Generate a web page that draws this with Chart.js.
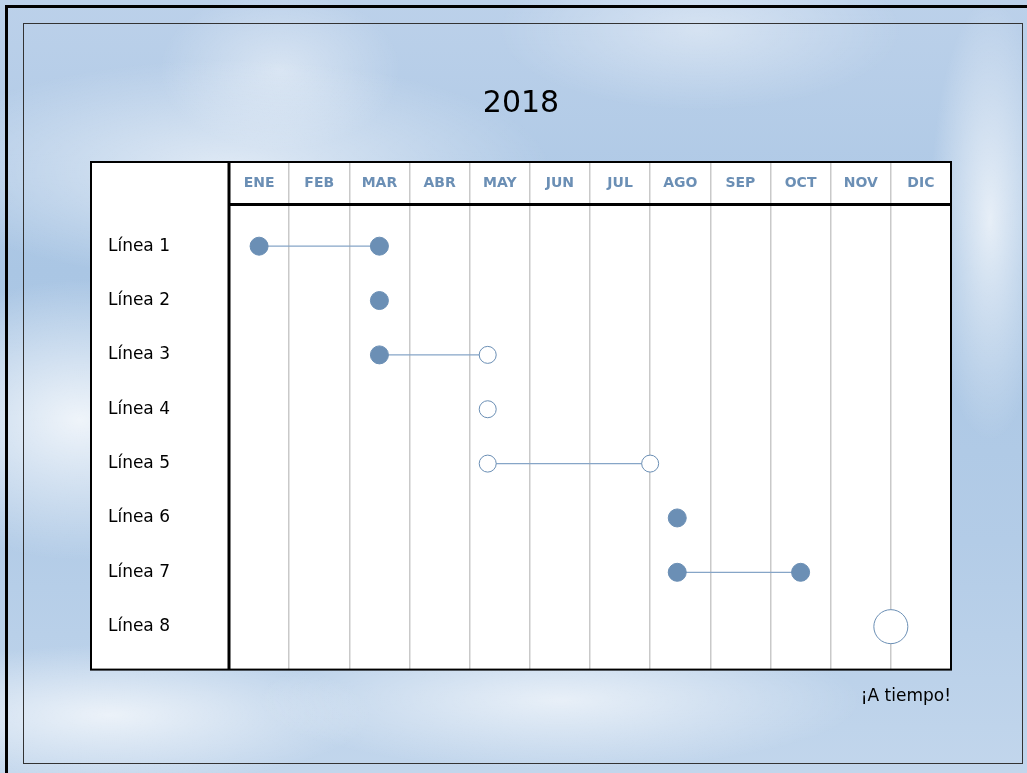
<!DOCTYPE html>
<html>
    <head>
        <meta charset="utf-8">
        <title>2018</title>
        <script src="https://cdnjs.cloudflare.com/ajax/libs/Chart.js/4.4.0/chart.umd.min.js"></script>
        <style>
            body {
                margin: 0;
                width: 1027px;
                height: 773px;
                overflow: hidden;
                background:
                    radial-gradient(ellipse 200px 140px at 80px 420px, rgba(255,255,255,0.8), rgba(255,255,255,0) 100%),
                    radial-gradient(ellipse 320px 110px at 230px 170px, rgba(255,255,255,0.6), rgba(255,255,255,0) 100%),
                    radial-gradient(ellipse 120px 80px at 280px 70px, rgba(255,255,255,0.45), rgba(255,255,255,0) 100%),
                    radial-gradient(ellipse 60px 220px at 990px 220px, rgba(255,255,255,0.7), rgba(255,255,255,0) 100%),
                    radial-gradient(ellipse 300px 70px at 560px 700px, rgba(255,255,255,0.65), rgba(255,255,255,0) 100%),
                    radial-gradient(ellipse 260px 70px at 110px 715px, rgba(255,255,255,0.7), rgba(255,255,255,0) 100%),
                    radial-gradient(ellipse 200px 80px at 700px 30px, rgba(255,255,255,0.4), rgba(255,255,255,0) 100%),
                    linear-gradient(180deg, #bcd1ea 0%, #aac6e4 35%, #b3cce7 70%, #c2d6ec 100%);
            }
            #outer {
                position: absolute; left: 5px; top: 5px; width: 1040px; height: 790px;
                border-left: 3px solid #000; border-top: 3px solid #000;
            }
            #inner {
                position: absolute; left: 23px; top: 23px; width: 998px; height: 739px;
                border: 1px solid #333;
            }
            #wrap { position: absolute; left: 0; top: 0; width: 1027px; height: 773px; }
        </style>
        <script>
            const months = ['ENE', 'FEB', 'MAR', 'ABR', 'MAY', 'JUN', 'JUL', 'AGO', 'SEP', 'OCT', 'NOV', 'DIC'];
            const rowLabels = ['Línea 1', 'Línea 2', 'Línea 3', 'Línea 4', 'Línea 5', 'Línea 6', 'Línea 7', 'Línea 8'];
            // positions in months from the start of ENE
            const startPos = [0.5, 2.5, 2.5, 4.3, 4.3, 7.45, 7.45, 11.0];
            const endPos = [2.5, null, 4.3, null, 7.0, null, 9.5, null];
            // true = completed (filled), false = pending (open)
            const startDone = [true, true, true, false, false, true, true, false];
            const endDone = [true, null, false, null, false, null, true, null];
            const milestone = [false, false, false, false, false, false, false, true];

            const blue = '#6b8fb5';

            function loaded()
            {
                let datasets = [];
                for (let i = 0; i < rowLabels.length; i++)
                {
                    let pts = [{ x: startPos[i], y: i }];
                    let fills = [startDone[i] ? blue : '#ffffff'];
                    if (endPos[i] !== null)
                    {
                        pts.push({ x: endPos[i], y: i });
                        fills.push(endDone[i] ? blue : '#ffffff');
                    }
                    const radius = fills.map(f => milestone[i] ? 17 : (f === blue ? 9 : 8.5));
                    datasets.push({
                        label: rowLabels[i],
                        data: pts,
                        xAxisID: 'xv',
                        yAxisID: 'y',
                        showLine: true,
                        borderColor: '#86a5c7',
                        borderWidth: 1.2,
                        pointBackgroundColor: fills,
                        pointBorderColor: blue,
                        pointBorderWidth: 1,
                        pointRadius: radius,
                        pointHoverRadius: radius
                    });
                }

                const tablePlugin = {
                    id: 'table',
                    beforeDraw(chart) {
                        const c = chart.ctx, a = chart.chartArea;
                        const left = chart.scales.y.left, top = chart.scales.x.top;
                        c.save();
                        c.fillStyle = '#ffffff';
                        c.fillRect(left, top, a.right - left, a.bottom - top);
                        c.restore();
                    },
                    afterDraw(chart) {
                        const c = chart.ctx, a = chart.chartArea;
                        const left = chart.scales.y.left, top = chart.scales.x.top;
                        c.save();
                        c.strokeStyle = '#000';
                        c.lineWidth = 2;
                        c.strokeRect(left, top, a.right - left, a.bottom - top);
                        c.lineWidth = 3;
                        c.beginPath();
                        c.moveTo(a.left, top);
                        c.lineTo(a.left, a.bottom);
                        c.stroke();
                        c.restore();
                    }
                };

                new Chart(document.getElementById('chart'), {
                    type: 'scatter',
                    data: { datasets: datasets },
                    plugins: [tablePlugin],
                    options: {
                        responsive: true,
                        maintainAspectRatio: false,
                        animation: false,
                        layout: { padding: { left: 91, right: 76, top: 0, bottom: 66 } },
                        scales: {
                            x: {
                                type: 'category',
                                labels: months,
                                position: 'top',
                                offset: true,
                                grid: { offset: true, color: '#c9c9c9', lineWidth: 1.5, drawTicks: true, tickLength: 42 },
                                border: { display: true, color: '#000', width: 3 },
                                ticks: {
                                    autoSkip: false, maxRotation: 0, padding: -29.4,
                                    color: blue,
                                    font: { family: 'DejaVu Sans', size: 14, weight: 'bold' }
                                },
                                afterFit(scale) { scale.height = 42; }
                            },
                            xv: { type: 'linear', min: 0, max: 12, display: false },
                            y: {
                                type: 'linear',
                                reverse: true,
                                min: -0.776,
                                max: 7.79,
                                grid: { display: false },
                                border: { display: false },
                                afterBuildTicks(scale) {
                                    scale.ticks = rowLabels.map((_, i) => ({ value: i }));
                                },
                                ticks: {
                                    padding: 51,
                                    color: '#000',
                                    font: { family: 'DejaVu Sans', size: 17 },
                                    callback: function(value) { return rowLabels[value]; }
                                },
                                afterFit(scale) { scale.width = 138; }
                            }
                        },
                        plugins: {
                            legend: { display: false },
                            tooltip: { enabled: false },
                            title: {
                                display: true,
                                text: '2018',
                                color: '#000',
                                font: { family: 'DejaVu Sans', size: 30, weight: 'normal' },
                                padding: { top: 86, bottom: 40 }
                            },
                            subtitle: {
                                display: true,
                                text: '¡A tiempo!',
                                position: 'bottom',
                                align: 'end',
                                color: '#000',
                                font: { family: 'DejaVu Sans', size: 17 },
                                padding: { top: 17, bottom: 0 }
                            }
                        }
                    }
                });
            }

            window.addEventListener('load', loaded, true);
        </script>
    </head>
    <body>
        <div id="outer"></div>
        <div id="inner"></div>
        <div id="wrap"><canvas id="chart"></canvas></div>
    </body>
</html>
